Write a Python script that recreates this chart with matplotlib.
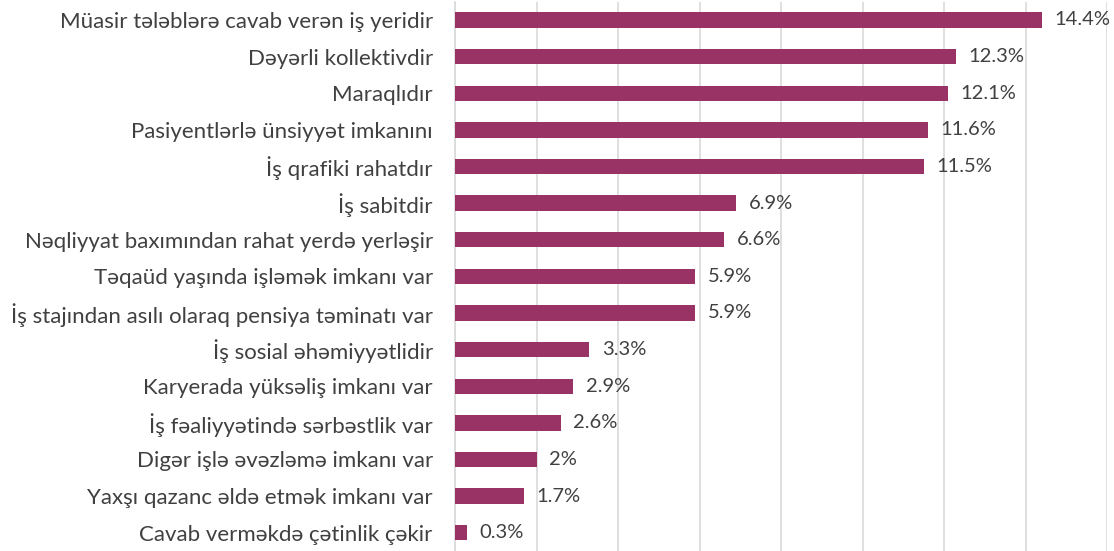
import matplotlib
matplotlib.use("Agg")
import matplotlib.pyplot as plt

categories = [
    "Müasir tələblərə cavab verən iş yeridir",
    "Dəyərli kollektivdir",
    "Maraqlıdır",
    "Pasiyentlərlə ünsiyyət imkanını",
    "İş qrafiki rahatdır",
    "İş sabitdir",
    "Nəqliyyat baxımından rahat yerdə yerləşir",
    "Təqaüd yaşında işləmək imkanı var",
    "İş stajından asılı olaraq pensiya təminatı var",
    "İş sosial əhəmiyyətlidir",
    "Karyerada yüksəliş imkanı var",
    "İş fəaliyyətində sərbəstlik var",
    "Digər işlə əvəzləmə imkanı var",
    "Yaxşı qazanc əldə etmək imkanı var",
    "Cavab verməkdə çətinlik çəkir",
]
values = [14.4, 12.3, 12.1, 11.6, 11.5, 6.9, 6.6, 5.9, 5.9, 3.3, 2.9, 2.6, 2.0, 1.7, 0.3]
value_labels = ["14.4%", "12.3%", "12.1%", "11.6%", "11.5%", "6.9%", "6.6%", "5.9%",
                "5.9%", "3.3%", "2.9%", "2.6%", "2%", "1.7%", "0.3%"]

plt.rcParams['font.family'] = ['Lato', 'DejaVu Sans']

fig = plt.figure(figsize=(11.14, 5.51), dpi=100)
ax = fig.add_axes([455/1114, 0.0, (1107-455)/1114, 0.997])

ypos = list(range(len(categories)))
ax.barh(ypos, values, height=0.42, color="#993366", zorder=3)
ax.set_yticks(ypos)
ax.set_yticklabels(categories, fontsize=16, color="#404040")
ax.tick_params(axis='y', length=0, pad=16)
ax.set_ylim(len(categories) - 0.5, -0.5)
ax.set_xlim(0, 16)
ax.set_xticks([0, 2, 4, 6, 8, 10, 12, 14, 16])
ax.tick_params(axis='x', length=0, labelbottom=False)
ax.grid(axis='x', color="#d9d9d9", linewidth=1.2, zorder=0)
for s in ['top', 'right', 'bottom']:
    ax.spines[s].set_visible(False)
ax.spines['left'].set_color("#d9d9d9")
ax.spines['left'].set_linewidth(1.2)

for y, v, lab in zip(ypos, values, value_labels):
    ax.annotate(lab, (v, y), xytext=(9, 0), textcoords='offset points',
                va='center', ha='left', fontsize=14.5, color="#404040")

fig.savefig("out.png", dpi=100)
